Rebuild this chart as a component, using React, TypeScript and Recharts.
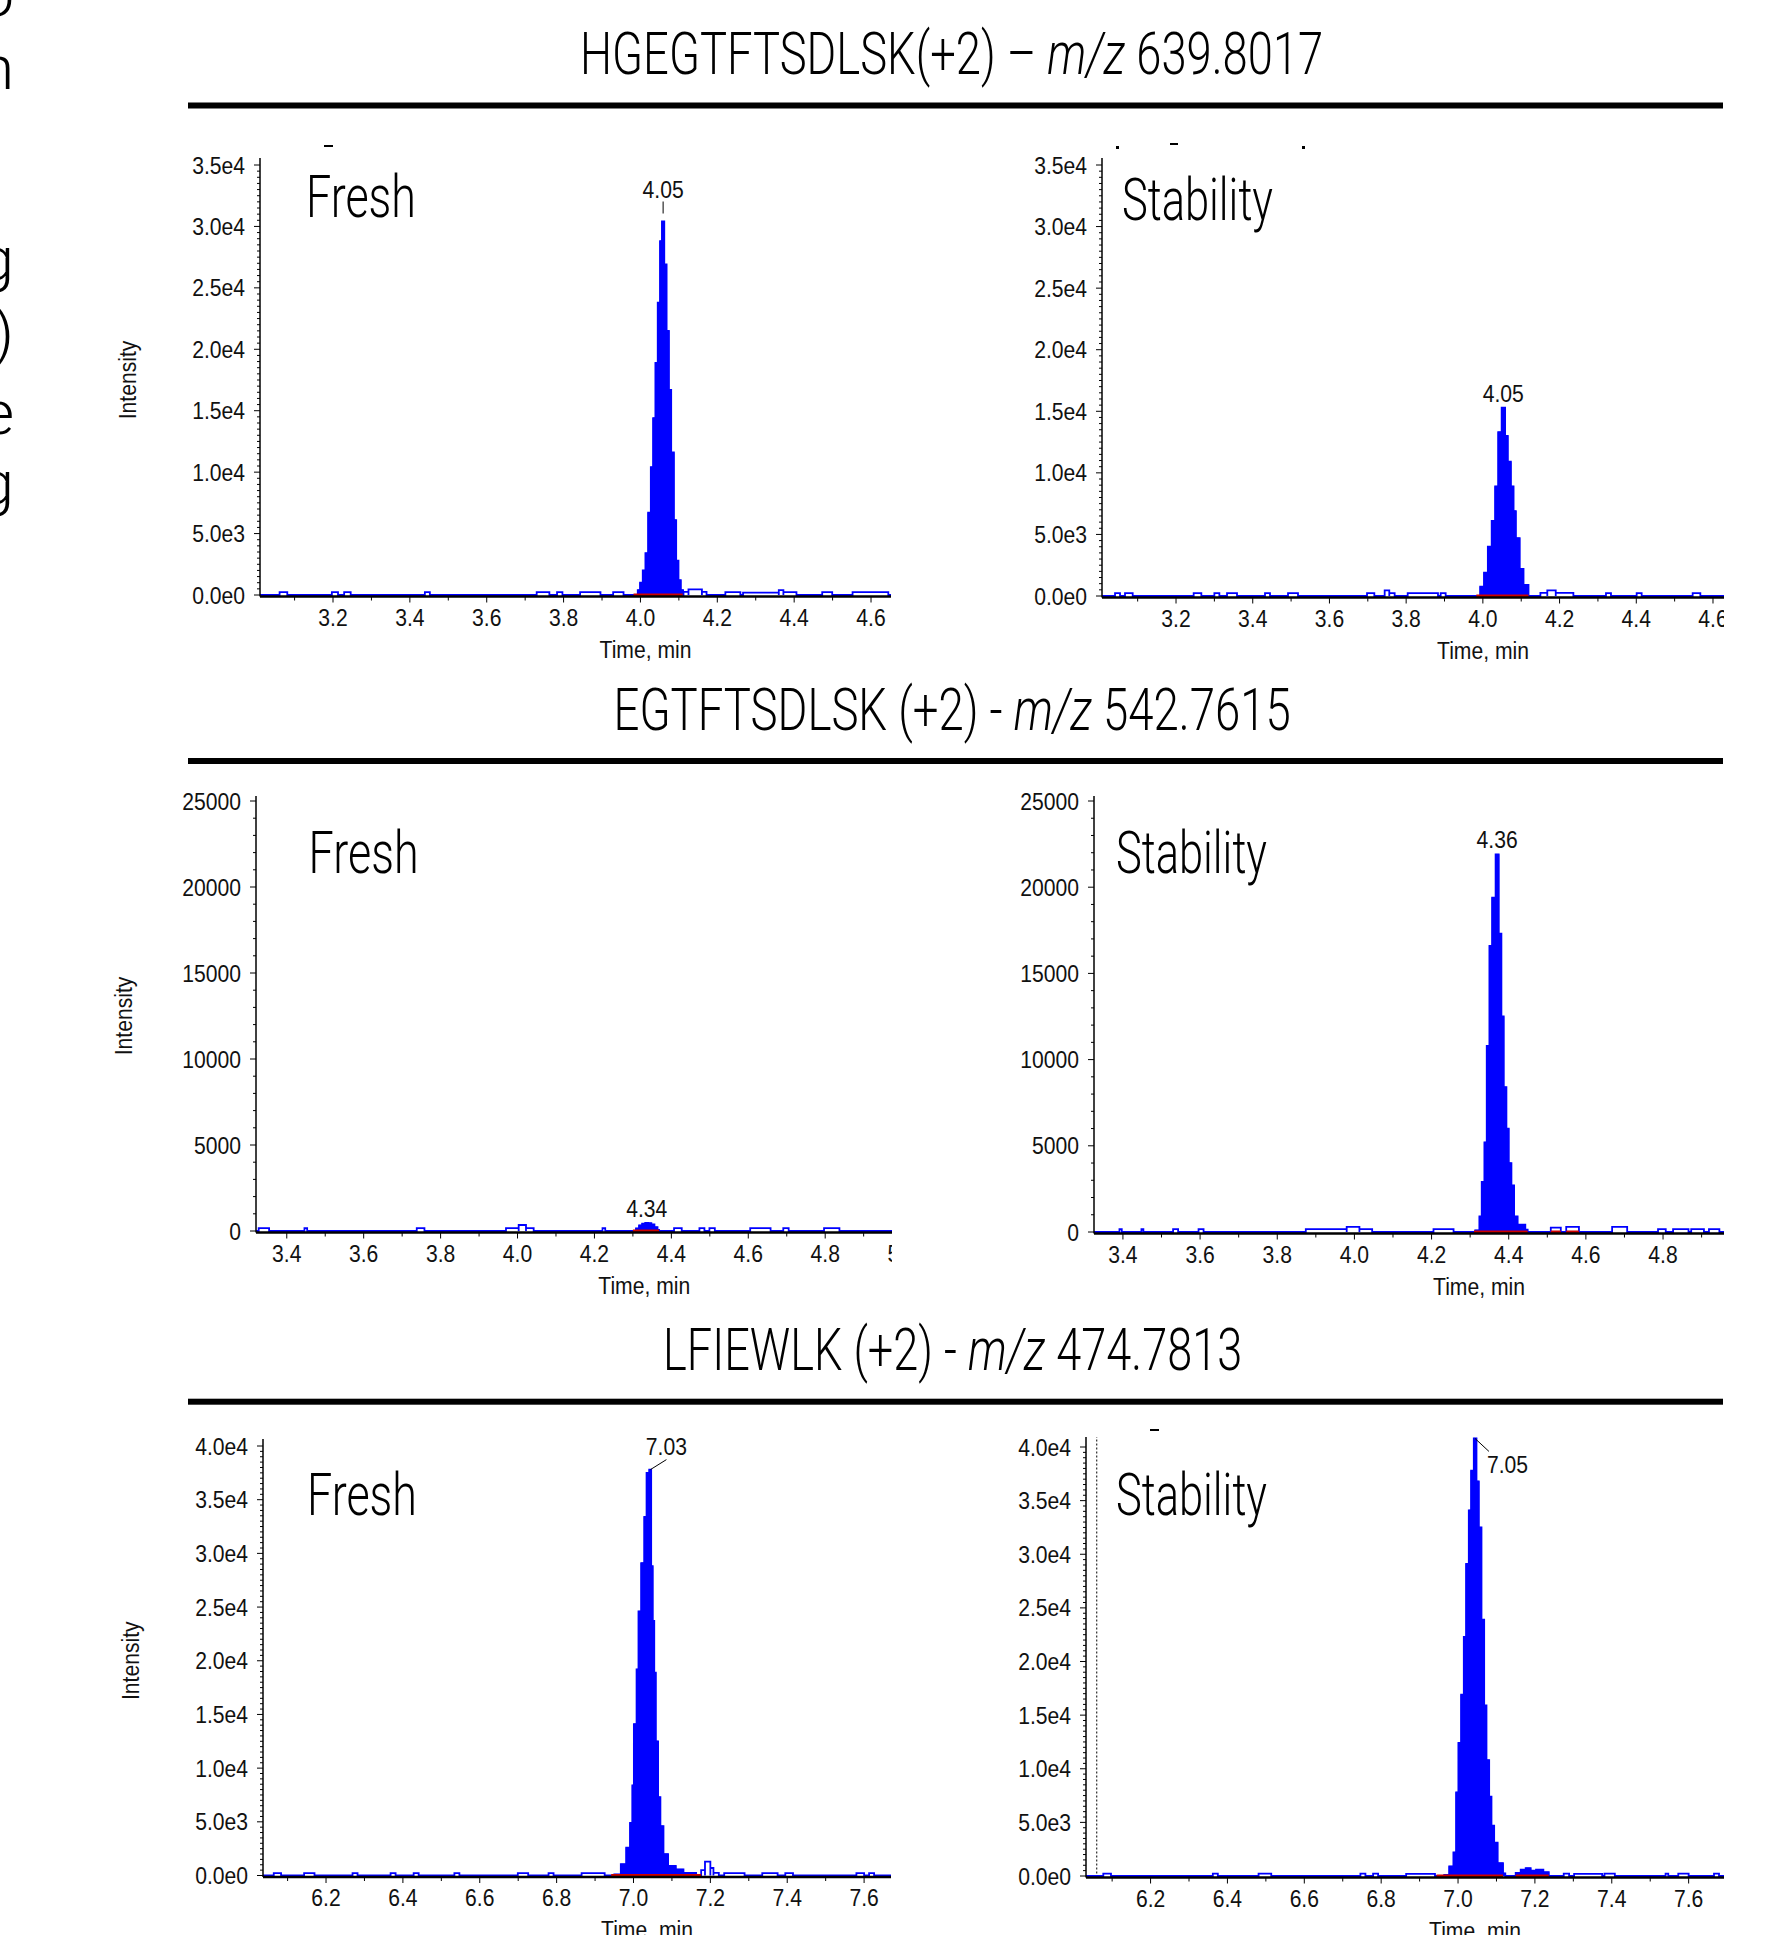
import React, { useLayoutEffect, useRef, useState } from 'react';
import { ComposedChart, Area, Line, XAxis, YAxis, ReferenceDot, ReferenceLine } from 'recharts';

type Pt = [number, number];
type Bump = [number, number, number];

// ---------------- text ----------------
const TITLES = ['HGEGTFTSDLSK(+2) – ', 'EGTFTSDLSK (+2) - ', 'LFIEWLK (+2) - '];
const TITLE_MZ = ['639.8017', '542.7615', '474.7813'];
const MZ = 'm/z';
const CONDITIONS = ['Fresh', 'Stability'];
const X_LABEL = 'Time, min';
const Y_LABEL = 'Intensity';
const EDGE_GLYPHS = ['o', 'n', 'g', ')', 'e', 'g'];

// ---------------- tick labels ----------------
const Y_SCI35_VALUES = [0, 5000, 10000, 15000, 20000, 25000, 30000, 35000];
const Y_SCI35_LABELS = ['0.0e0', '5.0e3', '1.0e4', '1.5e4', '2.0e4', '2.5e4', '3.0e4', '3.5e4'];
const Y_LIN25_VALUES = [0, 5000, 10000, 15000, 20000, 25000];
const Y_LIN25_LABELS = ['0', '5000', '10000', '15000', '20000', '25000'];
const Y_SCI40_VALUES = [0, 5000, 10000, 15000, 20000, 25000, 30000, 35000, 40000];
const Y_SCI40_LABELS = ['0.0e0', '5.0e3', '1.0e4', '1.5e4', '2.0e4', '2.5e4', '3.0e4', '3.5e4', '4.0e4'];

const X_A_VALUES = [3.2, 3.4, 3.6, 3.8, 4.0, 4.2, 4.4, 4.6];
const X_A_LABELS = ['3.2', '3.4', '3.6', '3.8', '4.0', '4.2', '4.4', '4.6'];
const X_B_VALUES = [3.4, 3.6, 3.8, 4.0, 4.2, 4.4, 4.6, 4.8, 5.0];
const X_B_LABELS = ['3.4', '3.6', '3.8', '4.0', '4.2', '4.4', '4.6', '4.8', '5.0'];
const X_C_VALUES = [6.2, 6.4, 6.6, 6.8, 7.0, 7.2, 7.4, 7.6];
const X_C_LABELS = ['6.2', '6.4', '6.6', '6.8', '7.0', '7.2', '7.4', '7.6'];

// ---------------- data: HGEGTFTSDLSK ----------------
const TL_PEAK: Pt[] = [
  [3.986, 0], [3.993, 400], [3.999, 1000], [4.006, 2000], [4.013, 3400], [4.020, 6700],
  [4.027, 10400], [4.033, 14400], [4.039, 18900], [4.045, 23800], [4.051, 28800], [4.056, 30400],
  [4.062, 26900], [4.068, 21500], [4.074, 16700], [4.080, 11600], [4.087, 6100], [4.093, 2800],
  [4.099, 1200], [4.105, 400], [4.111, 0],
];
const TL_NOISE: Bump[] = [
  [3.061, 3.081, 230], [3.197, 3.213, 230], [3.229, 3.246, 230], [3.439, 3.452, 230],
  [3.730, 3.763, 230], [3.783, 3.797, 230], [3.843, 3.896, 230], [3.929, 3.956, 230],
  [4.112, 4.125, 250], [4.125, 4.160, 450], [4.160, 4.172, 250],
  [4.221, 4.260, 230], [4.267, 4.360, 200], [4.360, 4.372, 400], [4.372, 4.406, 230],
  [4.473, 4.499, 230], [4.552, 4.645, 230],
];
const TL_RED: Pt[] = [[3.982, 4.110]];
const TR_PEAK: Pt[] = [
  [3.983, 0], [3.993, 750], [4.003, 1900], [4.013, 4000], [4.023, 6100], [4.032, 8900],
  [4.040, 13300], [4.049, 15300], [4.058, 13000], [4.065, 10900], [4.073, 8900], [4.080, 6900],
  [4.086, 4700], [4.096, 2200], [4.106, 900], [4.119, 0],
];
const TR_NOISE: Bump[] = [
  [3.041, 3.054, 230], [3.067, 3.087, 230], [3.246, 3.266, 230], [3.300, 3.313, 230],
  [3.333, 3.359, 230], [3.432, 3.445, 230], [3.492, 3.518, 230], [3.698, 3.717, 230],
  [3.744, 3.756, 450], [3.756, 3.770, 230], [3.804, 3.883, 230], [3.890, 3.903, 230],
  [4.150, 4.168, 250], [4.168, 4.190, 450], [4.190, 4.236, 250],
  [4.321, 4.334, 230], [4.401, 4.414, 230], [4.547, 4.567, 230],
];
const TR_RED: Pt[] = [[3.983, 4.119]];

// ---------------- data: EGTFTSDLSK ----------------
const ML_PEAK: Pt[] = [
  [4.300, 0], [4.308, 150], [4.316, 330], [4.324, 430], [4.332, 470], [4.340, 450],
  [4.348, 380], [4.356, 220], [4.364, 60], [4.368, 0],
];
const ML_NOISE: Bump[] = [
  [3.327, 3.354, 170], [3.446, 3.453, 170], [3.738, 3.758, 170], [3.970, 4.003, 170],
  [4.003, 4.022, 350], [4.022, 4.042, 170], [4.221, 4.228, 170], [4.407, 4.427, 170],
  [4.473, 4.486, 170], [4.499, 4.513, 170], [4.605, 4.658, 170], [4.691, 4.705, 170],
  [4.797, 4.837, 170],
];
const ML_RED: Pt[] = [[4.300, 4.368]];
const MR_PEAK: Pt[] = [
  [4.310, 0], [4.313, 100], [4.324, 900], [4.330, 2900], [4.337, 5200], [4.343, 10800],
  [4.350, 16600], [4.357, 19400], [4.366, 21900], [4.374, 17300], [4.381, 12500], [4.387, 8400],
  [4.394, 6000], [4.400, 4000], [4.407, 2700], [4.414, 900], [4.423, 430], [4.443, 140], [4.449, 0],
];
const MR_NOISE: Bump[] = [
  [3.391, 3.397, 170], [3.448, 3.453, 170], [3.530, 3.543, 170], [3.596, 3.609, 170],
  [3.874, 3.980, 170], [3.980, 4.013, 300], [4.013, 4.046, 170], [4.205, 4.257, 170],
  [4.509, 4.535, 250], [4.549, 4.582, 300], [4.668, 4.707, 300], [4.787, 4.807, 170],
  [4.826, 4.866, 170], [4.873, 4.906, 170], [4.919, 4.946, 170],
];
const MR_RED: Pt[] = [[4.310, 4.449], [4.509, 4.535], [4.549, 4.582]];

// ---------------- data: LFIEWLK ----------------
const BL_PEAK: Pt[] = [
  [6.944, 0], [6.950, 100], [6.967, 1050], [6.981, 2600], [6.991, 4900], [6.997, 8400],
  [7.001, 14100], [7.008, 19200], [7.013, 24600], [7.020, 29100], [7.028, 33400], [7.034, 37500],
  [7.041, 37800], [7.046, 28800], [7.050, 23700], [7.054, 18900], [7.058, 12500], [7.064, 7300],
  [7.070, 4600], [7.078, 2000], [7.090, 900], [7.110, 570], [7.130, 250], [7.163, 0],
];
const BL_NOISE: Bump[] = [
  [6.064, 6.083, 230], [6.143, 6.170, 230], [6.269, 6.282, 230], [6.368, 6.381, 230],
  [6.428, 6.441, 230], [6.534, 6.547, 230], [6.699, 6.726, 230], [6.779, 6.792, 230],
  [6.865, 6.925, 230],
  [7.176, 7.186, 500], [7.186, 7.200, 1300], [7.200, 7.208, 700], [7.208, 7.222, 250],
  [7.236, 7.289, 230], [7.335, 7.375, 230], [7.395, 7.415, 230], [7.580, 7.600, 230],
  [7.613, 7.626, 230],
];
const BL_RED: Pt[] = [[6.942, 7.176]];
const BR_PEAK: Pt[] = [
  [6.944, 0], [6.964, 100], [6.977, 900], [6.988, 2200], [6.995, 7800], [7.001, 12400],
  [7.008, 16900], [7.015, 22300], [7.021, 29100], [7.028, 34100], [7.034, 37800], [7.041, 40800],
  [7.048, 36800], [7.054, 32500], [7.061, 23900], [7.068, 15900], [7.074, 10800], [7.081, 7400],
  [7.087, 4700], [7.094, 3100], [7.103, 1200], [7.117, 250], [7.123, 0],
];
const BR_PEAK2: Pt[] = [
  [7.130, 0], [7.150, 300], [7.163, 600], [7.176, 730], [7.189, 500], [7.203, 600],
  [7.222, 350], [7.236, 0],
];
const BR_NOISE: Bump[] = [
  [6.077, 6.097, 230], [6.362, 6.375, 230], [6.481, 6.514, 230], [6.746, 6.759, 230],
  [6.779, 6.792, 230], [6.865, 6.940, 200], [7.275, 7.289, 230], [7.302, 7.375, 200],
  [7.381, 7.408, 230], [7.540, 7.547, 230], [7.573, 7.600, 230], [7.666, 7.679, 230],
];
const BR_RED: Pt[] = [[6.944, 7.117], [7.150, 7.236]];
const BR_MARKER_T = 6.06;

// peak annotations
const TL_LABEL = { t: 4.059, v: 30400, text: '4.05', kind: 'tick' };
const TR_LABEL = { t: 4.053, v: 15300, text: '4.05', kind: 'plain' };
const ML_LABEL = { t: 4.336, v: 470, text: '4.34', kind: 'plain' };
const MR_LABEL = { t: 4.370, v: 21900, text: '4.36', kind: 'plain' };
const BL_LABEL = { t: 7.044, v: 37800, text: '7.03', kind: 'upright' };
const BR_LABEL = { t: 7.044, v: 40800, text: '7.05', kind: 'downright' };

// ---------------- styling ----------------
const SMALL_FONT = '"Liberation Sans", Arial, Helvetica, sans-serif';
const BIG_FONT = 'Roboto, "Noto Sans", "Open Sans", sans-serif';
const BLUE = '#0000FF';
const RED = '#CC0000';
const YW = 150;
const MT = 20;
const XH = 75;

function SmallText({ x, y, anchor = 'middle', rotate = false, children }: any) {
  return (
    <g transform={`translate(${x},${y})${rotate ? ' rotate(-90)' : ''} scale(0.88,1)`}>
      <text x={0} y={0} textAnchor={anchor} fontFamily={SMALL_FONT} fontSize={24} fill="#111">
        {children}
      </text>
    </g>
  );
}

// big text squeezed horizontally to a measured target width
function FitText({ x, y, width, size, children }: any) {
  const ref = useRef<SVGTextElement>(null);
  const [s, setS] = useState(0.8);
  useLayoutEffect(() => {
    if (ref.current) {
      const w = ref.current.getBBox().width;
      if (w > 0) setS(width / w);
    }
  }, [width]);
  return (
    <g transform={`translate(${x},${y}) scale(${s},1)`}>
      <text ref={ref} x={0} y={0} fontFamily={BIG_FONT} fontWeight={300} fontSize={size} fill="#000">
        {children}
      </text>
    </g>
  );
}

function toObjs(p: Pt[]) {
  return p.map(([t, v]) => ({ t, v }));
}

function buildTrace(xMin: number, xMax: number, noise: Bump[], peaks: Pt[][]) {
  const pts: Pt[] = [[xMin, 0]];
  noise.forEach(([s, e, h]) => {
    pts.push([s, h]);
    pts.push([e, 0]);
  });
  peaks.forEach((p) => p.forEach((q) => pts.push(q)));
  pts.push([xMax, 0]);
  pts.sort((a, b) => a[0] - b[0]);
  return toObjs(pts);
}

function makeYTick(vals: number[], labels: string[]) {
  return (p: any) => {
    const v = p.payload.value;
    const i = vals.findIndex((m) => Math.abs(m - v) < 1e-6);
    const major = i >= 0;
    return (
      <g>
        <line x1={p.x} y1={p.y} x2={p.x - (major ? 6 : 3)} y2={p.y} stroke="#000" strokeWidth={1} />
        {major && (
          <SmallText x={p.x - 15} y={p.y + 8.5} anchor="end">
            {labels[i]}
          </SmallText>
        )}
      </g>
    );
  };
}

function makeXTick(vals: number[], labels: string[]) {
  return (p: any) => {
    const v = p.payload.value;
    const i = vals.findIndex((m) => Math.abs(m - v) < 1e-6);
    const major = i >= 0;
    return (
      <g>
        <line x1={p.x} y1={p.y} x2={p.x} y2={p.y + (major ? 6 : 4)} stroke="#000" strokeWidth={1} />
        {major && <SmallText x={p.x} y={p.y + 29}>{labels[i]}</SmallText>}
      </g>
    );
  };
}

function PeakMark({ cx, cy, text, kind }: any) {
  if (kind === 'tick') {
    return (
      <g>
        <line x1={cx} y1={cy - 20} x2={cx} y2={cy - 8} stroke="#000" strokeWidth={1} />
        <SmallText x={cx} y={cy - 24}>{text}</SmallText>
      </g>
    );
  }
  if (kind === 'upright') {
    return (
      <g>
        <line x1={cx} y1={cy} x2={cx + 16} y2={cy - 10} stroke="#000" strokeWidth={1} />
        <SmallText x={cx + 16} y={cy - 15}>{text}</SmallText>
      </g>
    );
  }
  if (kind === 'downright') {
    return (
      <g>
        <line x1={cx} y1={cy} x2={cx + 14} y2={cy + 13} stroke="#000" strokeWidth={1} />
        <SmallText x={cx + 12} y={cy + 35} anchor="start">{text}</SmallText>
      </g>
    );
  }
  return <SmallText x={cx} y={cy - 6}>{text}</SmallText>;
}

const PANELS = [
  {
    layout: { axisX: 260, rightX: 891, topPx: 165, zeroPx: 595, extTop: 7, xMin: 3.010, xMax: 4.652 },
    yVals: Y_SCI35_VALUES, yLabels: Y_SCI35_LABELS, yMinor: 500,
    xVals: X_A_VALUES, xLabels: X_A_LABELS,
    peaks: [TL_PEAK], noise: TL_NOISE, reds: TL_RED, label: TL_LABEL, showY: true, marker: null,
  },
  {
    layout: { axisX: 1102, rightX: 1724, topPx: 165, zeroPx: 596, extTop: 7, xMin: 3.007, xMax: 4.6287 },
    yVals: Y_SCI35_VALUES, yLabels: Y_SCI35_LABELS, yMinor: 500,
    xVals: X_A_VALUES, xLabels: X_A_LABELS,
    peaks: [TR_PEAK], noise: TR_NOISE, reds: TR_RED, label: TR_LABEL, showY: false, marker: null,
  },
  {
    layout: { axisX: 255.5, rightX: 892, topPx: 801, zeroPx: 1231, extTop: 5, xMin: 3.32, xMax: 4.975 },
    yVals: Y_LIN25_VALUES, yLabels: Y_LIN25_LABELS, yMinor: 1000,
    xVals: X_B_VALUES, xLabels: X_B_LABELS,
    peaks: [ML_PEAK], noise: ML_NOISE, reds: ML_RED, label: ML_LABEL, showY: true, marker: null,
  },
  {
    layout: { axisX: 1094, rightX: 1724, topPx: 801, zeroPx: 1232, extTop: 5, xMin: 3.325, xMax: 4.958 },
    yVals: Y_LIN25_VALUES, yLabels: Y_LIN25_LABELS, yMinor: 1000,
    xVals: X_B_VALUES, xLabels: X_B_LABELS,
    peaks: [MR_PEAK], noise: MR_NOISE, reds: MR_RED, label: MR_LABEL, showY: false, marker: null,
  },
  {
    layout: { axisX: 263, rightX: 891, topPx: 1445.5, zeroPx: 1875, extTop: 7, xMin: 6.036, xMax: 7.67 },
    yVals: Y_SCI40_VALUES, yLabels: Y_SCI40_LABELS, yMinor: 500,
    xVals: X_C_VALUES, xLabels: X_C_LABELS,
    peaks: [BL_PEAK], noise: BL_NOISE, reds: BL_RED, label: BL_LABEL, showY: true, marker: null,
  },
  {
    layout: { axisX: 1086, rightX: 1724, topPx: 1447, zeroPx: 1876, extTop: 10, xMin: 6.032, xMax: 7.692 },
    yVals: Y_SCI40_VALUES, yLabels: Y_SCI40_LABELS, yMinor: 500,
    xVals: X_C_VALUES, xLabels: X_C_LABELS,
    peaks: [BR_PEAK, BR_PEAK2], noise: BR_NOISE, reds: BR_RED, label: BR_LABEL, showY: false, marker: BR_MARKER_T,
  },
];

function Panel({ cfg }: any) {
  const L = cfg.layout;
  const topVal = cfg.yVals[cfg.yVals.length - 1];
  const ppu = (L.zeroPx - L.topPx) / topVal;
  const yMin = -1.5 / ppu;
  const yMax = topVal + L.extTop / ppu;
  const plotTop = L.topPx - L.extTop;
  const plotBottom = L.zeroPx + 1.5;
  const W = YW + (L.rightX - L.axisX);
  const H = MT + (plotBottom - plotTop) + XH;

  const yTicks: number[] = [];
  for (let v = 0; v <= topVal + 1e-6; v += cfg.yMinor) yTicks.push(v);
  const xTicks: number[] = [];
  const xv: number[] = cfg.xVals;
  const step = xv[1] - xv[0];
  for (let k = -1; k < xv.length; k++) {
    const base = xv[0] + k * step;
    [base, base + step / 2].forEach((v) => {
      if (
        v >= L.xMin - 1e-6 &&
        (v <= L.xMax + 1e-6 || xv.some((m) => Math.abs(m - v) < 1e-6)) &&
        !xTicks.some((q) => Math.abs(q - v) < 1e-6)
      )
        xTicks.push(Number(v.toFixed(3)));
    });
  }
  xTicks.sort((a, b) => a - b);

  const trace = buildTrace(L.xMin, L.xMax, cfg.noise, cfg.peaks);

  return (
    <div style={{ position: 'absolute', left: L.axisX - YW, top: plotTop - MT, width: W, height: H }}>
      <ComposedChart width={W} height={H} margin={{ top: MT, right: 0, bottom: 0, left: 0 }}>
        <XAxis
          type="number"
          dataKey="t"
          domain={[L.xMin, L.xMax]}
          ticks={xTicks}
          interval={0}
          allowDataOverflow
          height={XH}
          axisLine={{ stroke: '#000', strokeWidth: 2.5 }}
          tickLine={false}
          tickSize={0}
          tickMargin={0}
          tick={makeXTick(cfg.xVals, cfg.xLabels)}
          label={(lp: any) => {
            const vb = lp.viewBox;
            return (
              <SmallText x={vb.x + vb.width / 2 + 70} y={vb.y + 61}>
                {X_LABEL}
              </SmallText>
            );
          }}
        />
        <YAxis
          type="number"
          domain={[yMin, yMax]}
          ticks={yTicks}
          interval={0}
          allowDataOverflow
          width={YW}
          axisLine={{ stroke: '#000', strokeWidth: 1.5 }}
          tickLine={false}
          tickSize={0}
          tickMargin={0}
          tick={makeYTick(cfg.yVals, cfg.yLabels)}
          label={
            cfg.showY
              ? (lp: any) => {
                  const vb = lp.viewBox;
                  return (
                    <SmallText x={vb.x + vb.width - 124} y={vb.y + L.extTop + (L.zeroPx - L.topPx) / 2} rotate>
                      {Y_LABEL}
                    </SmallText>
                  );
                }
              : undefined
          }
        />
        {cfg.marker !== null && (
          <ReferenceLine x={cfg.marker} stroke="#000" strokeWidth={1} strokeDasharray="2 2" />
        )}
        {cfg.peaks.map((p: Pt[], i: number) => (
          <Area
            key={'a' + i}
            data={toObjs(p)}
            dataKey="v"
            type="stepAfter"
            stroke={BLUE}
            strokeWidth={1}
            fill={BLUE}
            fillOpacity={1}
            baseValue={0}
            isAnimationActive={false}
            dot={false}
            activeDot={false}
          />
        ))}
        <Line
          data={trace}
          dataKey="v"
          type="stepAfter"
          stroke={BLUE}
          strokeWidth={1.8}
          dot={false}
          activeDot={false}
          isAnimationActive={false}
        />
        {cfg.reds.map((r: Pt, i: number) => (
          <Line
            key={'r' + i}
            data={[{ t: r[0], v: 0 }, { t: r[1], v: 0 }]}
            dataKey="v"
            stroke={RED}
            strokeWidth={3}
            dot={false}
            activeDot={false}
            isAnimationActive={false}
          />
        ))}
        <ReferenceDot
          x={cfg.label.t}
          y={cfg.label.v}
          r={0}
          ifOverflow="visible"
          shape={(sp: any) => <PeakMark cx={sp.cx} cy={sp.cy} text={cfg.label.text} kind={cfg.label.kind} />}
        />
      </ComposedChart>
    </div>
  );
}

const TITLE_POS = [
  { x: 580, y: 74, w: 743, rule: 105.5 },
  { x: 613.5, y: 729.5, w: 677, rule: 761 },
  { x: 663, y: 1370, w: 579, rule: 1401.7 },
];
const COND_POS = [
  { x: 306, y: 217, c: 0 },
  { x: 1122, y: 220, c: 1 },
  { x: 308.6, y: 873, c: 0 },
  { x: 1116, y: 873, c: 1 },
  { x: 307, y: 1515, c: 0 },
  { x: 1116, y: 1515, c: 1 },
];
const EDGE_POS = [16, 89, 280, 354, 434, 504];

export default function App() {
  return (
    <div style={{ position: 'absolute', left: 0, top: 0, width: 1780, height: 1935, overflow: 'hidden', background: '#fff' }}>
      {PANELS.map((cfg, i) => (
        <Panel key={i} cfg={cfg} />
      ))}
      <svg width={1780} height={1935} style={{ position: 'absolute', left: 0, top: 0, pointerEvents: 'none' }}>
        {EDGE_GLYPHS.map((g, i) => (
          <text key={'e' + i} x={14} y={EDGE_POS[i]} textAnchor="end" fontFamily={BIG_FONT} fontWeight={300} fontSize={62} fill="#000">
            {g}
          </text>
        ))}
        {TITLES.map((t, i) => (
          <g key={'t' + i}>
            <FitText x={TITLE_POS[i].x} y={TITLE_POS[i].y} width={TITLE_POS[i].w} size={59}>
              {t}
              <tspan fontStyle="italic">{MZ}</tspan>
              {' ' + TITLE_MZ[i]}
            </FitText>
            <rect x={188} y={TITLE_POS[i].rule - 3} width={1535} height={6} fill="#000" />
          </g>
        ))}
        {COND_POS.map((c, i) => (
          <FitText key={'c' + i} x={c.x} y={c.y} width={c.c === 0 ? 110 : 151} size={59}>
            {CONDITIONS[c.c]}
          </FitText>
        ))}
        <rect x={324} y={145} width={9} height={2} fill="#000" />
        <rect x={1150} y={1429} width={9} height={2} fill="#000" />
        <rect x={1116} y={146} width={3} height={3} fill="#000" />
        <rect x={1170} y={143} width={8} height={2} fill="#000" />
        <rect x={1302} y={146} width={3} height={3} fill="#000" />
      </svg>
    </div>
  );
}
